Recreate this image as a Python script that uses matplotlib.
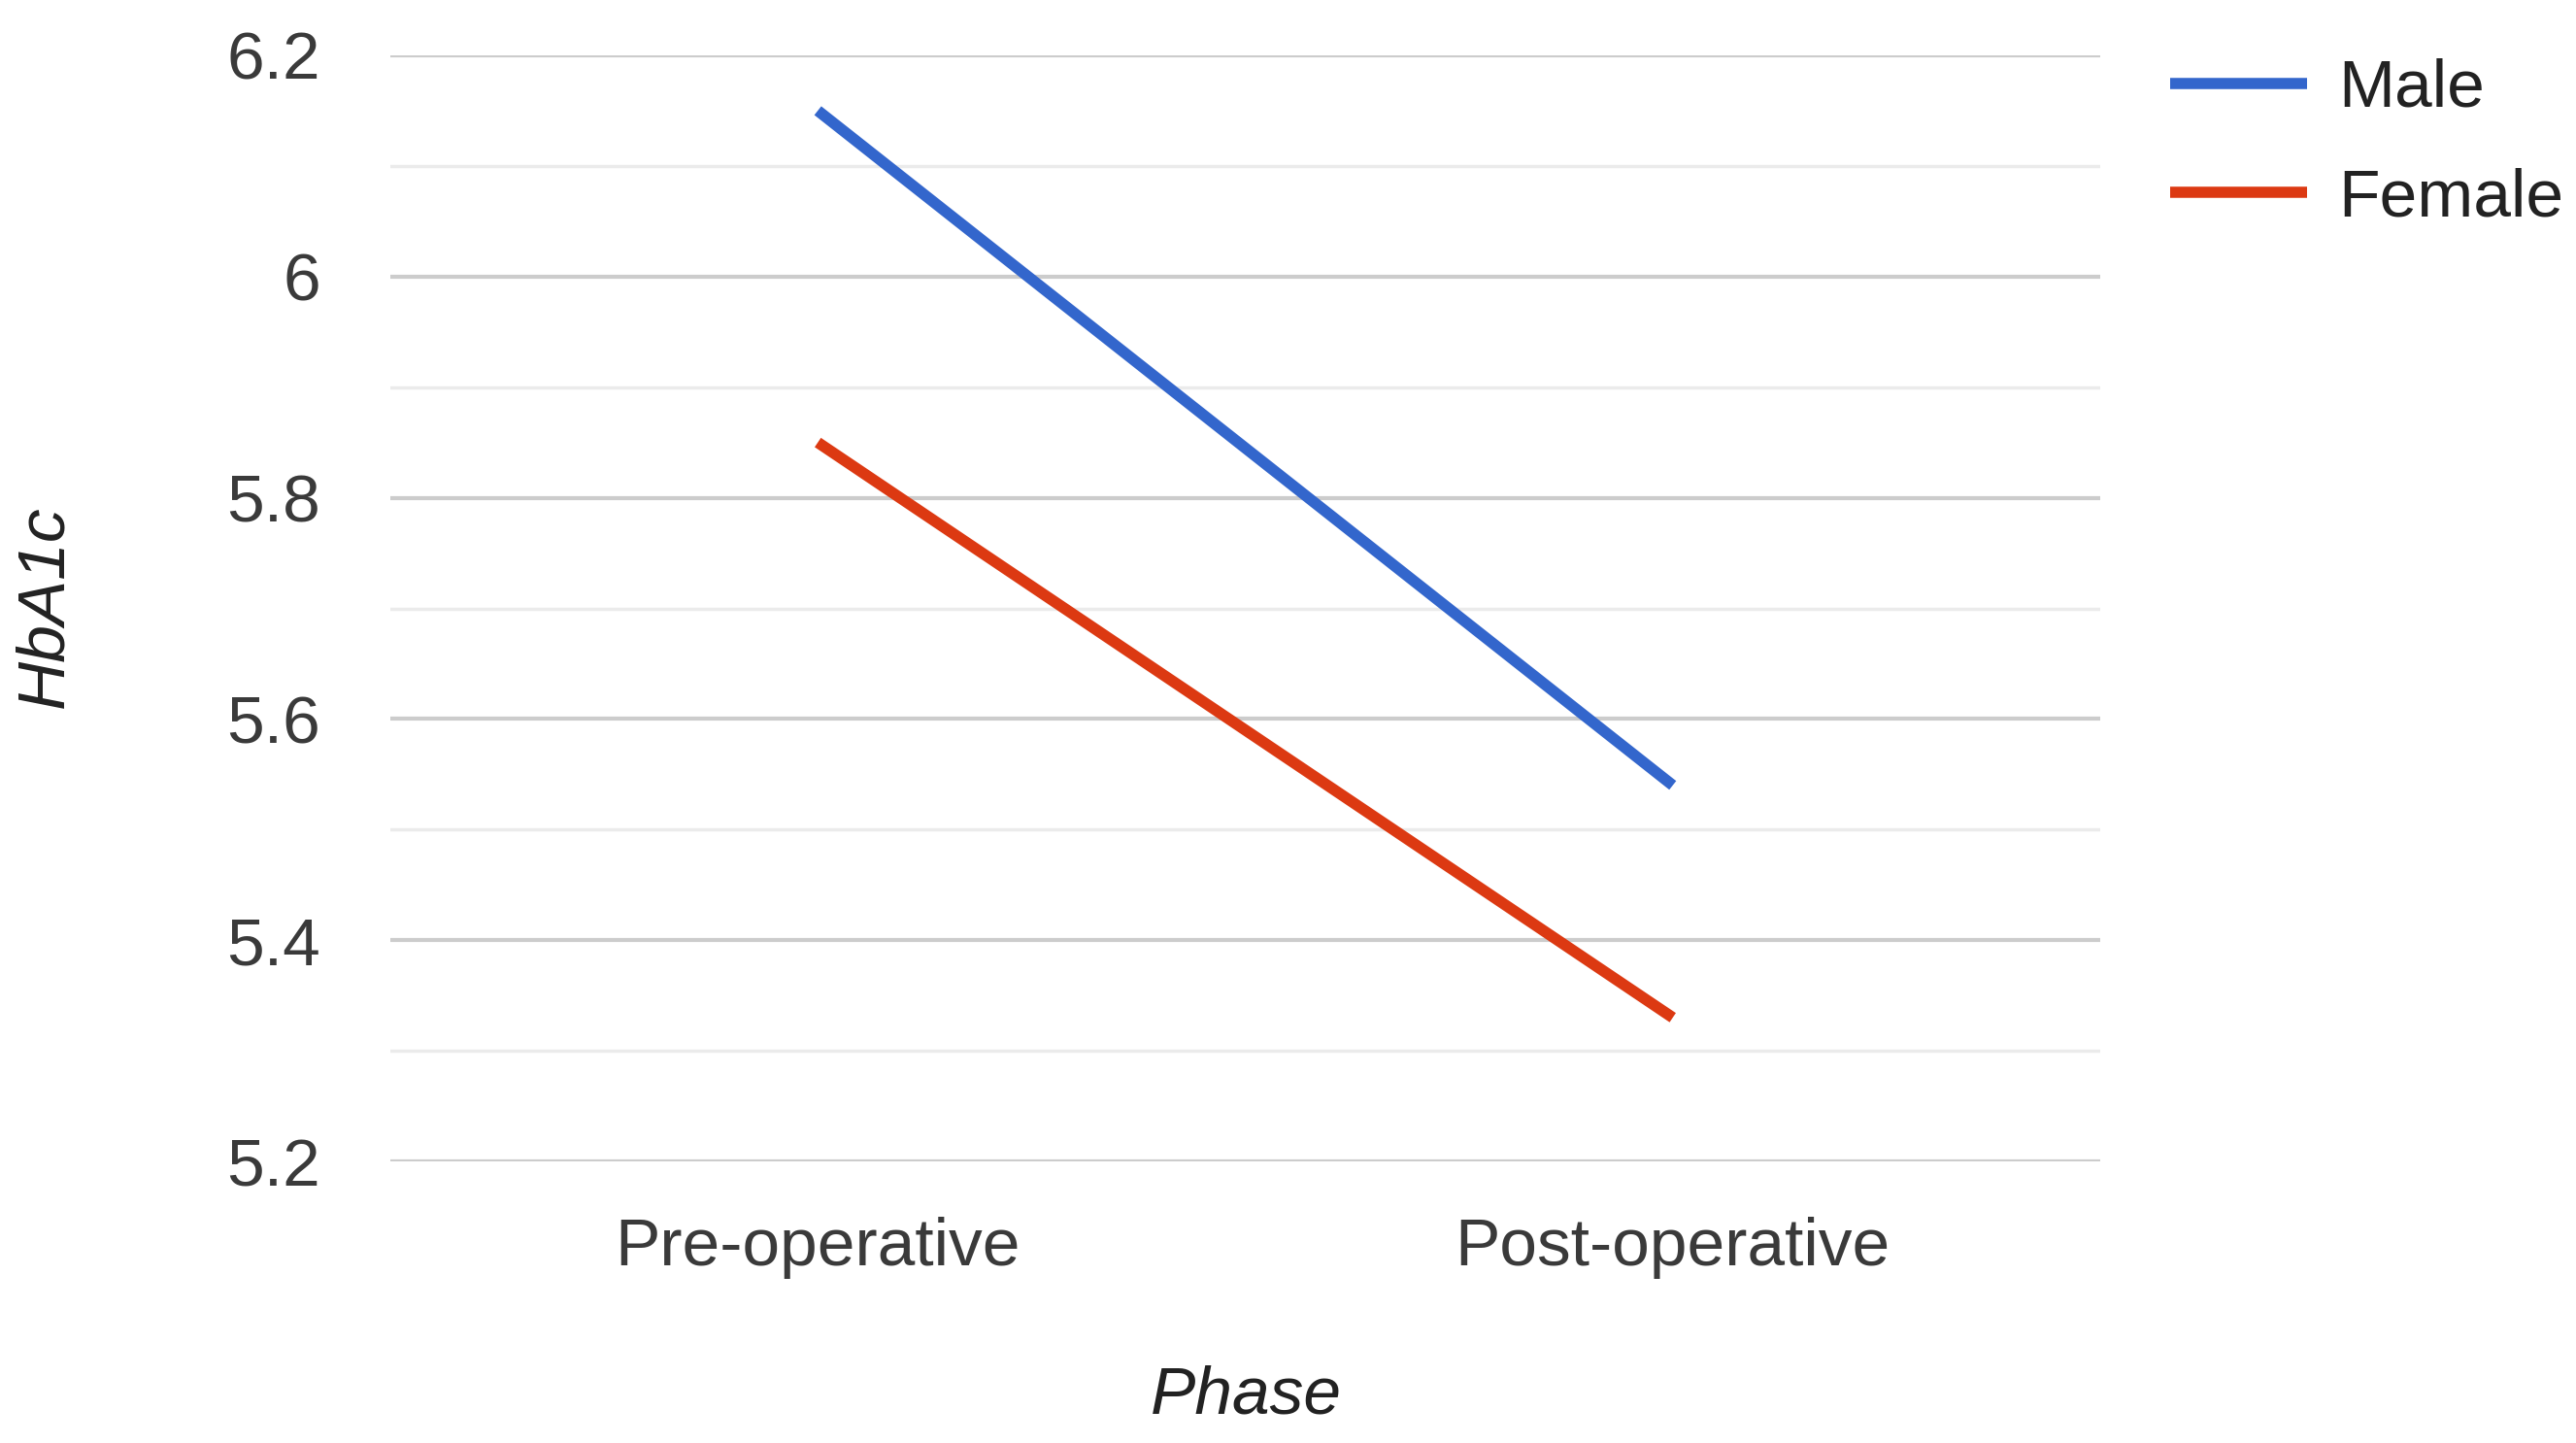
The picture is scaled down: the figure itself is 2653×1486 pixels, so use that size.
import matplotlib
matplotlib.use("Agg")
import matplotlib.pyplot as plt
import numpy as np

plt.rcParams['font.family'] = ['Liberation Sans', 'DejaVu Sans']

phases = ["Pre-operative", "Post-operative"]
male = [6.15, 5.54]
female = [5.85, 5.33]
yticks = [5.2, 5.4, 5.6, 5.8, 6.0, 6.2]
ytick_labels = ["5.2", "5.4", "5.6", "5.8", "6", "6.2"]

W, H = 2653, 1486
fig = plt.figure(figsize=(W / 100, H / 100), dpi=100)
ax = fig.add_axes([402 / W, 1 - 1196 / H, 1761 / W, 1139 / H])

x = np.arange(len(phases))
ax.plot(x, male, color="#3366CC", lw=8.3, label="Male", solid_capstyle="butt", zorder=3)
ax.plot(x, female, color="#DC3912", lw=8.3, label="Female", solid_capstyle="butt", zorder=3)

ax.set_xlim(-0.5, 1.5)
ax.set_ylim(5.2, 6.2)
ax.set_yticks(yticks)
ax.set_yticklabels(ytick_labels)
ax.set_yticks([5.3, 5.5, 5.7, 5.9, 6.1], minor=True)
ax.set_xticks(x)
ax.set_xticklabels(phases)
ax.grid(axis="y", which="major", color="#cccccc", lw=3, zorder=0)
ax.grid(axis="y", which="minor", color="#ebebeb", lw=2.5, zorder=0)
ax.set_axisbelow(True)
for s in ax.spines.values():
    s.set_visible(False)
ax.tick_params(axis="both", which="both", length=0, labelsize=50)
ax.tick_params(axis="y", pad=52)
ax.tick_params(axis="x", pad=41)
for lab in ax.get_xticklabels() + ax.get_yticklabels():
    lab.set_color("#3a3a3a")

fig.text(1283 / W, 1 - 1438 / H, "Phase", style="italic", fontsize=50,
         color="#222222", ha="center", va="center")
fig.text(46 / W, 1 - 625 / H, "HbA1c", style="italic", fontsize=50,
         color="#222222", ha="center", va="center", rotation=90)

ax.legend(loc="upper left", bbox_to_anchor=(2235 / W, 1 - 60 / H),
          bbox_transform=fig.transFigure, frameon=False, fontsize=50,
          handlelength=2.03, handletextpad=0.46, labelspacing=0.7,
          borderpad=0, borderaxespad=0, labelcolor="#222222")

fig.savefig("out.png", dpi=100)
